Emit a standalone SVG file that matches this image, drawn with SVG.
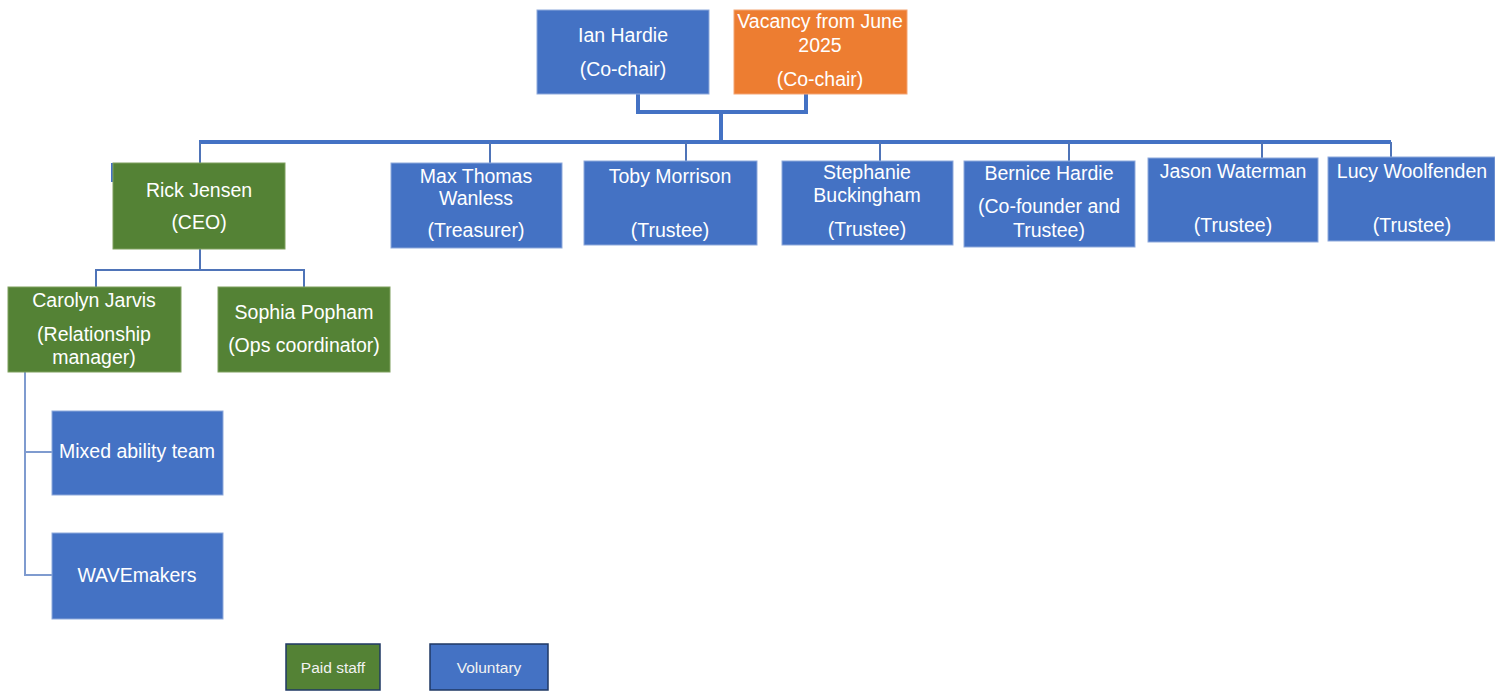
<svg xmlns="http://www.w3.org/2000/svg" width="1495" height="691" viewBox="0 0 1495 691">
<style>
.blue{fill:#4472C4;stroke:#8EA9DB;stroke-width:1}
.green{fill:#548235;stroke:#7FA05F;stroke-width:1}
.orange{fill:#ED7D31;stroke:#F4A574;stroke-width:1}
.t{font-family:"Liberation Sans",Arial,sans-serif;font-size:19.5px;fill:#FFFFFF;text-anchor:middle}
.lg{font-family:"Liberation Sans",Arial,sans-serif;font-size:15.5px;fill:#F2F2F2;text-anchor:middle}
.thick{fill:none;stroke:#4472C4;stroke-width:4}
.thin{fill:none;stroke:#4F74B8;stroke-width:2}
.light{fill:none;stroke:#7F9BCF;stroke-width:2}
.leg{stroke:#1F3864;stroke-width:1.5}
</style>
<g id="connectors">
<path class="thick" d="M638,94 V112 H806 V94"/>
<path class="thick" d="M721,112 V142"/>
<path class="thick" d="M199,142 H1391"/>
<path class="thin" d="M200,142 V163"/>
<path class="thin" d="M490,142 V163"/>
<path class="thin" d="M686,142 V161"/>
<path class="thin" d="M880,142 V161"/>
<path class="thin" d="M1069,142 V161"/>
<path class="thin" d="M1262,142 V158"/>
<path class="thin" d="M1391,142 V157"/>
<path class="thin" d="M200,249 V270"/>
<path class="thin" d="M96,288 V270 H304 V288"/>
<path class="light" d="M25,372 V575 H52"/>
<path class="light" d="M25,452 H52"/>
</g>
<g id="ian-hardie">
<rect class="blue" x="537" y="10" width="172" height="84"/>
<text class="t" x="623" y="42">Ian Hardie</text>
<text class="t" x="623" y="76">(Co-chair)</text>
</g>
<g id="vacancy">
<rect class="orange" x="734" y="10" width="173" height="84"/>
<text class="t" x="820" y="28">Vacancy from June</text>
<text class="t" x="820" y="52">2025</text>
<text class="t" x="820" y="86">(Co-chair)</text>
</g>
<g id="rick-jensen">
<rect fill="#4472C4" x="111" y="163" width="10" height="19"/>
<rect class="green" x="113" y="163" width="172" height="86"/>
<text class="t" x="199" y="197">Rick Jensen</text>
<text class="t" x="199" y="229">(CEO)</text>
</g>
<g id="max-thomas-wanless">
<rect class="blue" x="391" y="163" width="171" height="85"/>
<text class="t" x="476" y="183">Max Thomas</text>
<text class="t" x="476" y="205">Wanless</text>
<text class="t" x="476" y="237">(Treasurer)</text>
</g>
<g id="toby-morrison">
<rect class="blue" x="584" y="161" width="173" height="84"/>
<text class="t" x="670" y="183">Toby Morrison</text>
<text class="t" x="670" y="237">(Trustee)</text>
</g>
<g id="stephanie-buckingham">
<rect class="blue" x="782" y="161" width="171" height="84"/>
<text class="t" x="867" y="179">Stephanie</text>
<text class="t" x="867" y="202">Buckingham</text>
<text class="t" x="867" y="236">(Trustee)</text>
</g>
<g id="bernice-hardie">
<rect class="blue" x="964" y="161" width="171" height="86"/>
<text class="t" x="1049" y="180">Bernice Hardie</text>
<text class="t" x="1049" y="213">(Co-founder and</text>
<text class="t" x="1049" y="237">Trustee)</text>
</g>
<g id="jason-waterman">
<rect class="blue" x="1148" y="158" width="170" height="84"/>
<text class="t" x="1233" y="178">Jason Waterman</text>
<text class="t" x="1233" y="232">(Trustee)</text>
</g>
<g id="lucy-woolfenden">
<rect class="blue" x="1328" y="157" width="167" height="84"/>
<text class="t" x="1412" y="178">Lucy Woolfenden</text>
<text class="t" x="1412" y="232">(Trustee)</text>
</g>
<g id="carolyn-jarvis">
<rect class="green" x="8" y="287" width="173" height="85"/>
<text class="t" x="94" y="307">Carolyn Jarvis</text>
<text class="t" x="94" y="341">(Relationship</text>
<text class="t" x="94" y="364">manager)</text>
</g>
<g id="sophia-popham">
<rect class="green" x="218" y="287" width="172" height="85"/>
<text class="t" x="304" y="319">Sophia Popham</text>
<text class="t" x="304" y="352">(Ops coordinator)</text>
</g>
<g id="mixed-ability-team">
<rect class="blue" x="52" y="411" width="171" height="84"/>
<text class="t" x="137" y="458" font-size="20.5">Mixed ability team</text>
</g>
<g id="wavemakers">
<rect class="blue" x="52" y="533" width="171" height="86"/>
<text class="t" x="137" y="582">WAVEmakers</text>
</g>
<g id="legend-paid">
<rect class="leg" fill="#548235" x="286" y="644" width="94" height="46"/>
<text class="lg" x="333" y="673">Paid staff</text>
</g>
<g id="legend-voluntary">
<rect class="leg" fill="#4472C4" x="430" y="644" width="118" height="46"/>
<text class="lg" x="489" y="673">Voluntary</text>
</g>
</svg>
